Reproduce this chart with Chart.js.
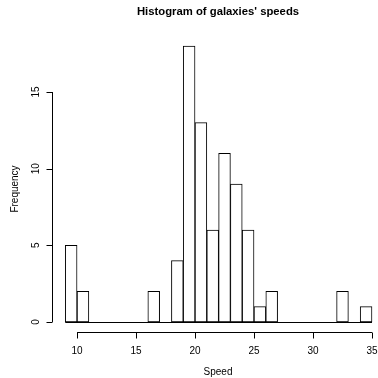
<!DOCTYPE html>
<html>
<head>
<meta charset="utf-8">
<script src="https://cdn.jsdelivr.net/npm/chart.js@4/dist/chart.umd.min.js"></script>
<style>
  html, body { margin: 0; padding: 0; background: #fff; }
  #wrap { width: 378px; height: 378px; }
</style>
</head>
<body>
<div id="wrap"><canvas id="histo"></canvas></div>
<script>
// histogram breaks (bin width 1, from 9 to 35) and counts per bin
const breaks = [9, 10, 11, 12, 13, 14, 15, 16, 17, 18, 19, 20, 21, 22, 23, 24, 25, 26, 27, 28, 29, 30, 31, 32, 33, 34, 35];
const counts = [5, 2, 0, 0, 0, 0, 0, 2, 0, 4, 18, 13, 6, 11, 9, 6, 1, 2, 0, 0, 0, 0, 0, 2, 0, 1];
const xTicks = [10, 15, 20, 25, 30, 35];
const yTicks = [0, 5, 10, 15];

const FONT = '"Liberation Sans", Arial, Helvetica, sans-serif';

// bars centered in their bins
const barData = counts.map((c, i) => ({ x: (breaks[i] + breaks[i + 1]) / 2, y: c }));

// R-style axes, title and labels
const rAxes = {
  id: 'rAxes',
  afterDraw(chart) {
    const ctx = chart.ctx;
    const xs = chart.scales.x, ys = chart.scales.y;
    const area = chart.chartArea;
    ctx.save();
    ctx.strokeStyle = '#000';
    ctx.fillStyle = '#000';
    ctx.lineWidth = 1;

    // zero-height bins drawn as flat lines along the base
    ctx.beginPath();
    const y0 = Math.round(ys.getPixelForValue(0)) + 0.5;
    ctx.moveTo(xs.getPixelForValue(breaks[0]), y0);
    ctx.lineTo(xs.getPixelForValue(breaks[breaks.length - 1]), y0);
    ctx.stroke();

    // x axis
    const ay = Math.round(area.bottom) - 0.5;
    ctx.beginPath();
    ctx.moveTo(xs.getPixelForValue(xTicks[0]), ay);
    ctx.lineTo(xs.getPixelForValue(xTicks[xTicks.length - 1]), ay);
    xTicks.forEach(t => {
      const px = Math.round(xs.getPixelForValue(t)) + 0.5;
      ctx.moveTo(px, ay);
      ctx.lineTo(px, ay + 6);
    });
    ctx.stroke();
    ctx.font = '10px ' + FONT;
    ctx.textAlign = 'center';
    ctx.textBaseline = 'middle';
    xTicks.forEach(t => ctx.fillText(String(t), xs.getPixelForValue(t), 351));

    // y axis
    const ax = Math.round(area.left) - 0.5;
    ctx.beginPath();
    ctx.moveTo(ax, ys.getPixelForValue(yTicks[0]));
    ctx.lineTo(ax, ys.getPixelForValue(yTicks[yTicks.length - 1]));
    yTicks.forEach(t => {
      const py = Math.round(ys.getPixelForValue(t)) + 0.5;
      ctx.moveTo(ax, py);
      ctx.lineTo(ax - 6, py);
    });
    ctx.stroke();
    yTicks.forEach(t => {
      ctx.save();
      ctx.translate(36, ys.getPixelForValue(t));
      ctx.rotate(-Math.PI / 2);
      ctx.fillText(String(t), 0, 0);
      ctx.restore();
    });

    // axis titles
    ctx.fillText('Speed', 218, 372);
    ctx.save();
    ctx.translate(15, 189);
    ctx.rotate(-Math.PI / 2);
    ctx.fillText('Frequency', 0, 0);
    ctx.restore();

    // main title
    ctx.font = 'bold 11.3px ' + FONT;
    ctx.fillText("Histogram of galaxies' speeds", 218, 12);
    ctx.restore();
  }
};

new Chart(document.getElementById('histo'), {
  type: 'bar',
  data: {
    datasets: [{
      data: barData,
      backgroundColor: '#ffffff',
      borderColor: '#000000',
      borderWidth: 1,
      borderSkipped: false,
      barPercentage: 1,
      categoryPercentage: 1
    }]
  },
  options: {
    responsive: true,
    maintainAspectRatio: false,
    animation: false,
    layout: { padding: { left: 53, right: 0, top: 35, bottom: 45 } },
    plugins: { legend: { display: false }, tooltip: { enabled: false } },
    scales: {
      x: { type: 'linear', offset: false, min: 7.96, max: 35.51, display: false },
      y: { min: -0.72, max: 18.72, display: false }
    }
  },
  plugins: [rAxes]
});
</script>
</body>
</html>
